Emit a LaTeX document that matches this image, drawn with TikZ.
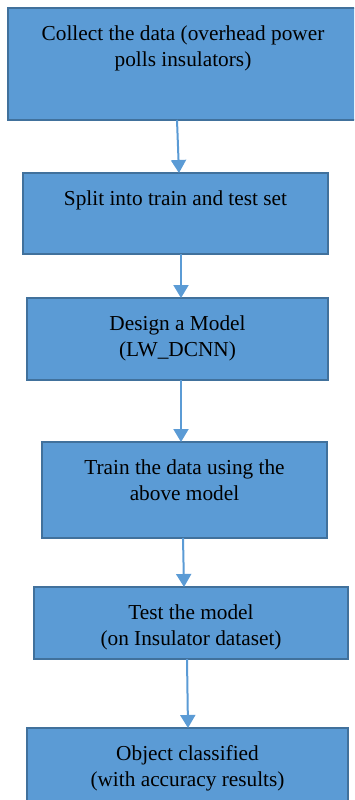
\documentclass[tikz,border=0pt]{standalone}
\usepackage{fontspec}
\setmainfont{Liberation Serif}
\usetikzlibrary{arrows.meta,calc}
\definecolor{boxfill}{HTML}{5B9BD5}
\definecolor{boxline}{HTML}{41719C}
\begin{document}
\begin{tikzpicture}[x=1pt,y=-1pt,
  stepbox/.style 2 args={draw=boxline, fill=boxfill, line width=2pt, inner sep=0pt, outer sep=0pt, minimum width=#1, minimum height=#2},
  lbl/.style={anchor=north, inner sep=0pt, align=center, font=\fontsize{21.3}{26}\selectfont},
  arr/.style={draw=boxfill, line width=2pt, -{Triangle[width=15pt,length=13pt]}}]
\useasboundingbox (0,0) rectangle (354,800);
\clip (0,0) rectangle (354,800);
\node[stepbox={350pt}{112pt}] (b1) at (183,64) {};
\node[stepbox={305pt}{81pt}] (b2) at (175.5,213.5) {};
\node[stepbox={301pt}{82pt}] (b3) at (177.5,339) {};
\node[stepbox={285pt}{96pt}] (b4) at (184.5,490) {};
\node[stepbox={314pt}{72pt}] (b5) at (191,623) {};
\node[stepbox={321pt}{84pt}] (b6) at (187.5,770) {};
\node[lbl] (t1) at ($(b1.north)+(0,14)$) {\rule{0pt}{18pt}Collect the data (overhead power\\polls insulators)};
\node[lbl] (t2) at ($(b2.north)+(0,14)$) {\rule{0pt}{18pt}Split into train and test set};
\node[lbl] (t3) at ($(b3.north)+(0,14)$) {\rule{0pt}{18pt}Design a Model\\(LW\_DCNN)};
\node[lbl] (t4) at ($(b4.north)+(0,14)$) {\rule{0pt}{18pt}Train the data using the\\above model};
\node[lbl] (t5) at ($(b5.north)+(0,14)$) {\rule{0pt}{18pt}Test the model\\(on Insulator dataset)};
\node[lbl] (t6) at ($(b6.north)+(0,14)$) {\rule{0pt}{18pt}Object classified\\(with accuracy results)};
\draw[arr] ($(b1.south)+(-6,0)$) -- ($(b2.north)+(3.5,0)$);
\draw[arr] ($(b2.south)+(5.5,0)$) -- ($(b3.north)+(3.5,0)$);
\draw[arr] ($(b3.south)+(3.5,0)$) -- ($(b4.north)+(-3.5,0)$);
\draw[arr] ($(b4.south)+(-1.5,0)$) -- ($(b5.north)+(-7,0)$);
\draw[arr] ($(b5.south)+(-4,0)$) -- ($(b6.north)+(0.5,0)$);
\end{tikzpicture}
\end{document}
